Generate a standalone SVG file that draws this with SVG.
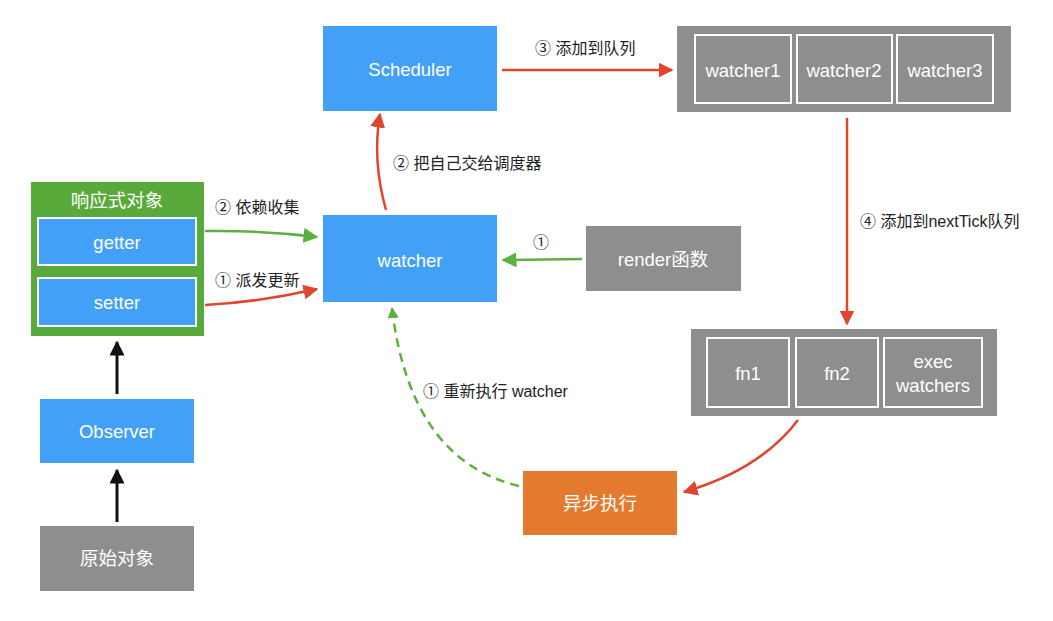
<svg xmlns="http://www.w3.org/2000/svg" width="1053" height="621" viewBox="0 0 1053 621">
<style>
.t{font-family:"Liberation Sans","Noto Sans CJK SC",sans-serif;font-size:18.5px;fill:#fff;text-anchor:middle;dominant-baseline:central}
.l{font-family:"Liberation Sans","Noto Sans CJK SC",sans-serif;font-size:16px;fill:#222;dominant-baseline:central}
.blue{fill:#42A1F6}
.gray{fill:#8E8E8E}
.inner{fill:none;stroke:#fff;stroke-width:2}
.red{fill:none;stroke:#E0452F;stroke-width:2.5}
.grn{fill:none;stroke:#5BB13F;stroke-width:2.5}
.blk{fill:none;stroke:#111;stroke-width:3}
</style>
<defs>
<marker id="ar" viewBox="0 0 10 10" refX="9" refY="5" markerWidth="6" markerHeight="6" orient="auto" markerUnits="strokeWidth"><path d="M0,0 L10,5 L0,10 z" fill="#E0452F"/></marker>
<marker id="ag" viewBox="0 0 10 10" refX="9" refY="5" markerWidth="6" markerHeight="6" orient="auto" markerUnits="strokeWidth"><path d="M0,0 L10,5 L0,10 z" fill="#5BB13F"/></marker>
<marker id="agd" viewBox="0 0 10 10" refX="9" refY="5" markerWidth="4.5" markerHeight="4.5" orient="auto" markerUnits="strokeWidth"><path d="M0,0 L10,5 L0,10 z" fill="#5BB13F"/></marker>
<marker id="ab" viewBox="0 0 10 10" refX="9" refY="5" markerWidth="5" markerHeight="5" orient="auto" markerUnits="strokeWidth"><path d="M0,0 L10,5 L0,10 z" fill="#111"/></marker>
</defs>
<rect width="1053" height="621" fill="#fff"/>

<g id="reactive">
<rect x="31" y="182" width="173" height="154" fill="#58AB3A"/>
<text class="t" x="117" y="200" font-size="17.5">响应式对象</text>
</g>
<g id="getter">
<rect x="38" y="218" width="158" height="47" class="blue"/>
<rect x="38" y="218" width="158" height="47" class="inner"/>
<text class="t" x="117" y="242">getter</text>
</g>
<g id="setter">
<rect x="38" y="278" width="158" height="48" class="blue"/>
<rect x="38" y="278" width="158" height="48" class="inner"/>
<text class="t" x="117" y="302">setter</text>
</g>
<g id="observer">
<rect x="40" y="399" width="154" height="64" class="blue"/>
<text class="t" x="117" y="431">Observer</text>
</g>
<g id="raw">
<rect x="40" y="526" width="154" height="65" class="gray"/>
<text class="t" x="117" y="558">原始对象</text>
</g>
<g id="scheduler">
<rect x="323" y="26" width="174" height="85" class="blue"/>
<text class="t" x="410" y="69">Scheduler</text>
</g>
<g id="watcher">
<rect x="323" y="215" width="174" height="87" class="blue"/>
<text class="t" x="410" y="260">watcher</text>
</g>
<g id="render">
<rect x="586" y="226" width="155" height="65" class="gray"/>
<text class="t" x="663" y="259">render函数</text>
</g>
<g id="watcherQueue">
<rect x="677" y="26" width="334" height="86" class="gray"/>
<rect x="695" y="35" width="96" height="68" class="inner"/>
<rect x="797" y="35" width="95" height="68" class="inner"/>
<rect x="897" y="35" width="96" height="68" class="inner"/>
<text class="t" x="743" y="70">watcher1</text>
<text class="t" x="844" y="70">watcher2</text>
<text class="t" x="945" y="70">watcher3</text>
</g>
<g id="tickQueue">
<rect x="691" y="329" width="306" height="87" class="gray"/>
<rect x="707" y="338" width="82" height="69" class="inner"/>
<rect x="796" y="338" width="82" height="69" class="inner"/>
<rect x="884" y="338" width="98" height="69" class="inner"/>
<text class="t" x="748" y="373">fn1</text>
<text class="t" x="837" y="373">fn2</text>
<text class="t" x="933" y="361">exec</text>
<text class="t" x="933" y="385">watchers</text>
</g>
<g id="async">
<rect x="523" y="471" width="154" height="64" fill="#E37A2E"/>
<text class="t" x="600" y="503">异步执行</text>
</g>

<g id="connectors">
<path class="blk" d="M117,522 L117,470" marker-end="url(#ab)"/>
<path class="blk" d="M117,394 L117,342" marker-end="url(#ab)"/>
<path class="grn" d="M205,231 Q260,230 317,237" marker-end="url(#ag)"/>
<path class="red" d="M205,305 Q260,302 317,289" marker-end="url(#ar)"/>
<path class="red" d="M386,210 Q372,160 380,114" marker-end="url(#ar)"/>
<path class="red" d="M502,70 L672,70" marker-end="url(#ar)"/>
<path class="grn" d="M582,259 L503,260" marker-end="url(#ag)"/>
<path class="red" d="M847,118 L847,324" marker-end="url(#ar)"/>
<path class="red" d="M798,420 Q760,470 684,492" marker-end="url(#ar)"/>
<path class="grn" stroke-width="4" stroke-dasharray="9,6" d="M519,486 Q410,460 392,308" marker-end="url(#agd)"/>
</g>

<g id="labels">
<text class="l" x="215" y="207">② 依赖收集</text>
<text class="l" x="215" y="280">① 派发更新</text>
<text class="l" x="393" y="163">② 把自己交给调度器</text>
<text class="l" x="535" y="48">③ 添加到队列</text>
<text class="l" x="533" y="242">①</text>
<text class="l" x="860" y="221">④ 添加到nextTick队列</text>
<text class="l" x="423" y="391">① 重新执行 watcher</text>
</g>
</svg>
